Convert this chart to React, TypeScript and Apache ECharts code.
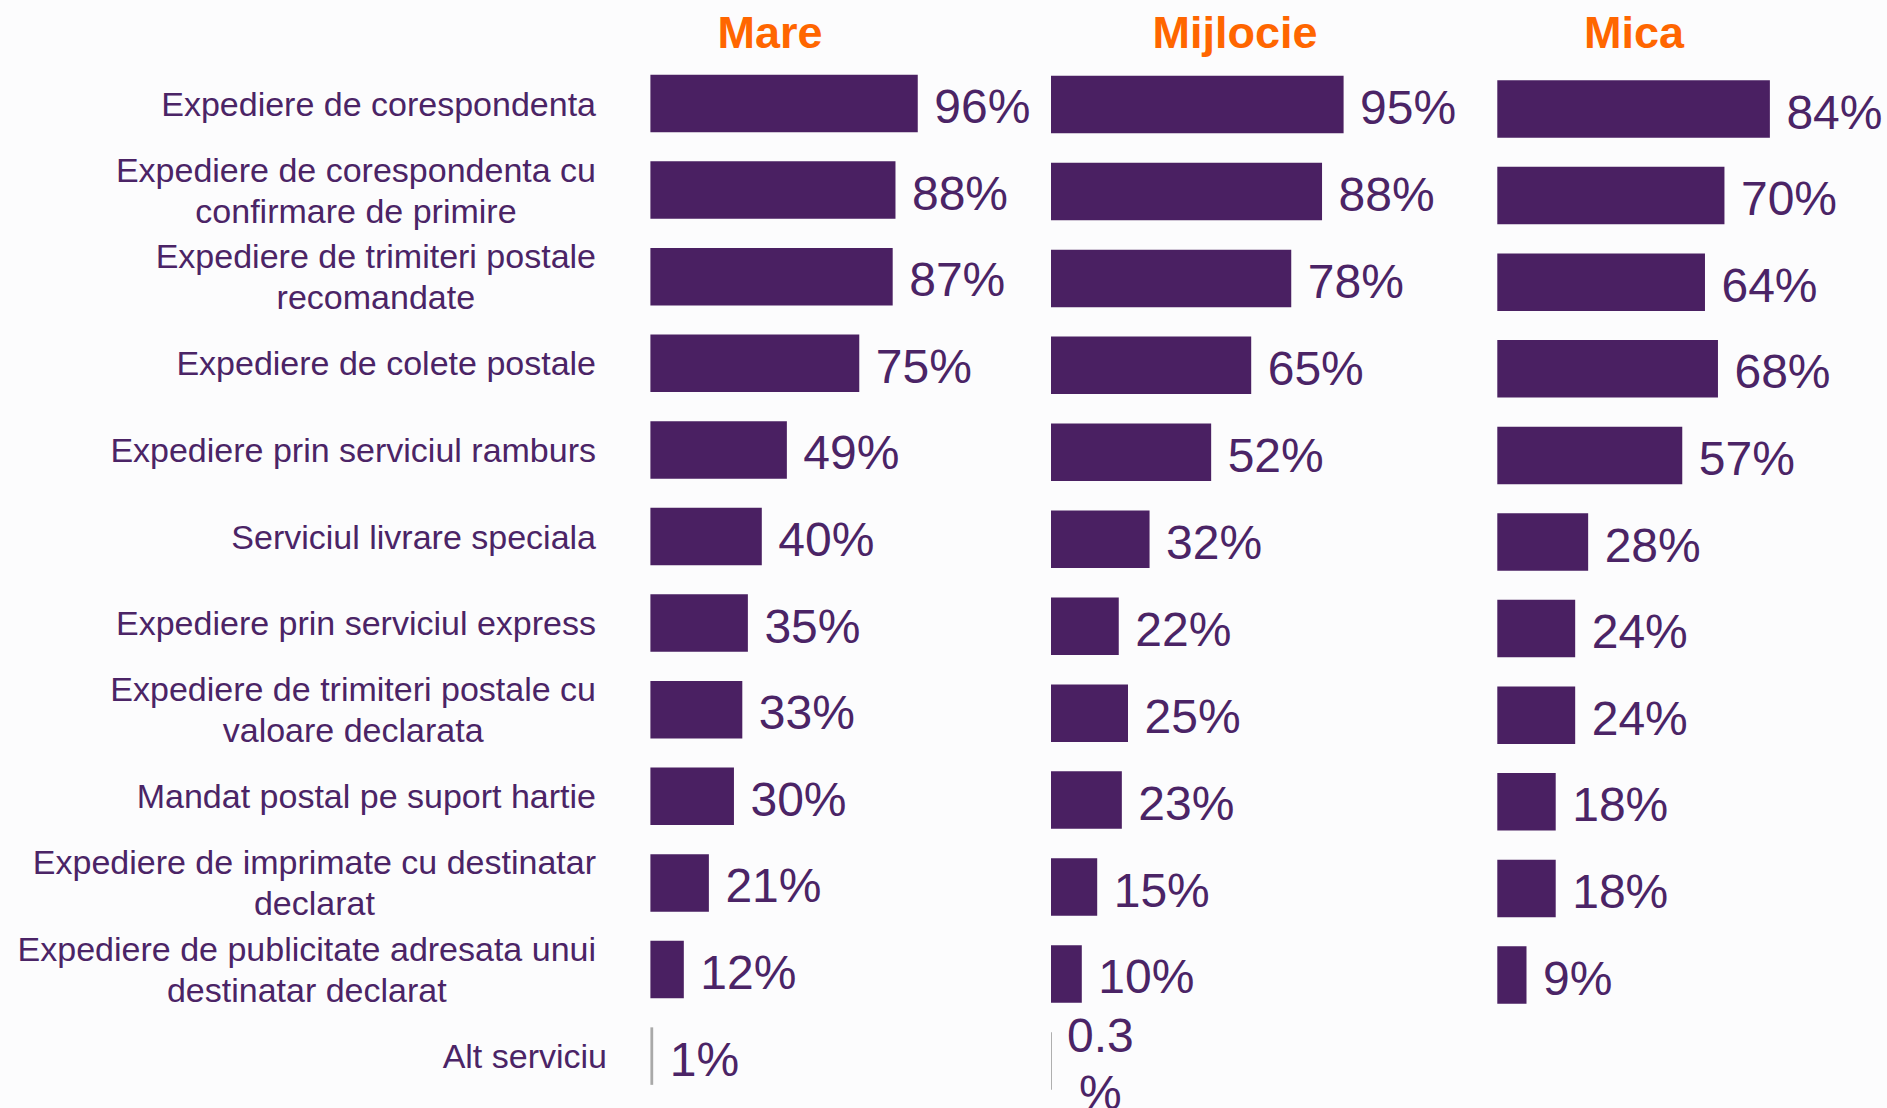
import React, { useEffect, useRef } from 'react';
import * as echarts from 'echarts';

const categories = [
  'Expediere de corespondenta',
  'Expediere de corespondenta cu\nconfirmare de primire',
  'Expediere de trimiteri postale\nrecomandate',
  'Expediere de colete postale',
  'Expediere prin serviciul ramburs',
  'Serviciul livrare speciala',
  'Expediere prin serviciul express',
  'Expediere de trimiteri postale cu\nvaloare declarata',
  'Mandat postal pe suport hartie',
  'Expediere de imprimate cu destinatar\ndeclarat',
  'Expediere de publicitate adresata unui\ndestinatar declarat',
  'Alt serviciu',
];
const panelTitles = ['Mare', 'Mijlocie', 'Mica'];
const mareValues = [96, 88, 87, 75, 49, 40, 35, 33, 30, 21, 12, 1];
const mijlocieValues = [95, 88, 78, 65, 52, 32, 22, 25, 23, 15, 10, 0.3];
const micaValues: (number | null)[] = [84, 70, 64, 68, 57, 28, 24, 24, 18, 18, 9, null];

const PURPLE = '#4a2062';
const TEXT = '#4b2466';
const ORANGE = '#ff6600';
const FONT = '"Liberation Sans", Arial, sans-serif';

const gridLayout = [
  { left: 650.4, top: 60.2, width: 278.5, height: 1039.2 },
  { left: 1051, top: 61, width: 308, height: 1043.4 },
  { left: 1497.3, top: 65.7, width: 324.5, height: 1039.2 },
];
const titleCenters = [765, 1230, 1629];

function buildSeries(values: (number | null)[], idx: number) {
  return {
    type: 'bar',
    xAxisIndex: idx,
    yAxisIndex: idx,
    barWidth: 57.5,
    data: values.map((v) => {
      if (v === null) return '-';
      const item: any = { value: v };
      if (v < 2) {
        item.itemStyle = { color: '#a9a9a9' };
      }
      if (v < 1) {
        item.label = { align: 'center', offset: [32, 3], lineHeight: 57 };
      }
      return item;
    }),
    itemStyle: { color: PURPLE },
    label: {
      show: true,
      position: 'right',
      distance: 16.5,
      offset: [0, 3],
      fontFamily: FONT,
      fontSize: 48,
      color: TEXT,
      formatter: (p: any) => (p.value < 1 ? `${p.value}\n%` : `${p.value}%`),
    },
  };
}

export default function App() {
  const ref = useRef<HTMLDivElement>(null);
  useEffect(() => {
    if (!ref.current) return;
    const chart = echarts.init(ref.current, null, { renderer: 'svg' });
    const allValues = [mareValues, mijlocieValues, micaValues];
    const option: any = {
      animation: false,
      backgroundColor: '#fcfcfd',
      title: panelTitles.map((t, i) => ({
        text: t,
        left: titleCenters[i],
        top: 5,
        textAlign: 'center',
        textStyle: { fontFamily: FONT, fontWeight: 'bold', fontSize: 45, color: ORANGE },
      })),
      grid: gridLayout.map((g) => ({ ...g })),
      xAxis: gridLayout.map((_, i) => ({
        type: 'value',
        gridIndex: i,
        min: 0,
        max: 100,
        show: false,
      })),
      yAxis: gridLayout.map((_, i) => ({
        type: 'category',
        gridIndex: i,
        inverse: true,
        data: categories,
        axisLine: { show: false },
        axisTick: { show: false },
        splitLine: { show: false },
        axisLabel:
          i === 0
            ? {
                show: true,
                margin: 43.4,
                interval: 0,
                formatter: (val: string, index: number) => {
                  const key = index === categories.length - 1 ? 'a' : 'c';
                  return val
                    .split('\n')
                    .map((l) => `{${key}|${l}}`)
                    .join('\n');
                },
                rich: {
                  c: {
                    fontFamily: FONT,
                    fontSize: 34,
                    lineHeight: 41,
                    color: TEXT,
                    align: 'center',
                    padding: [0, 11, 0, 0],
                  },
                  a: {
                    fontFamily: FONT,
                    fontSize: 34,
                    lineHeight: 41,
                    color: TEXT,
                    align: 'center',
                  },
                },
              }
            : { show: false },
      })),
      series: allValues.map((v, i) => buildSeries(v, i)),
    };
    chart.setOption(option);
    return () => chart.dispose();
  }, []);
  return (
    <div
      ref={ref}
      style={{ position: 'fixed', left: 0, top: 0, width: 1887, height: 1108 }}
    />
  );
}
